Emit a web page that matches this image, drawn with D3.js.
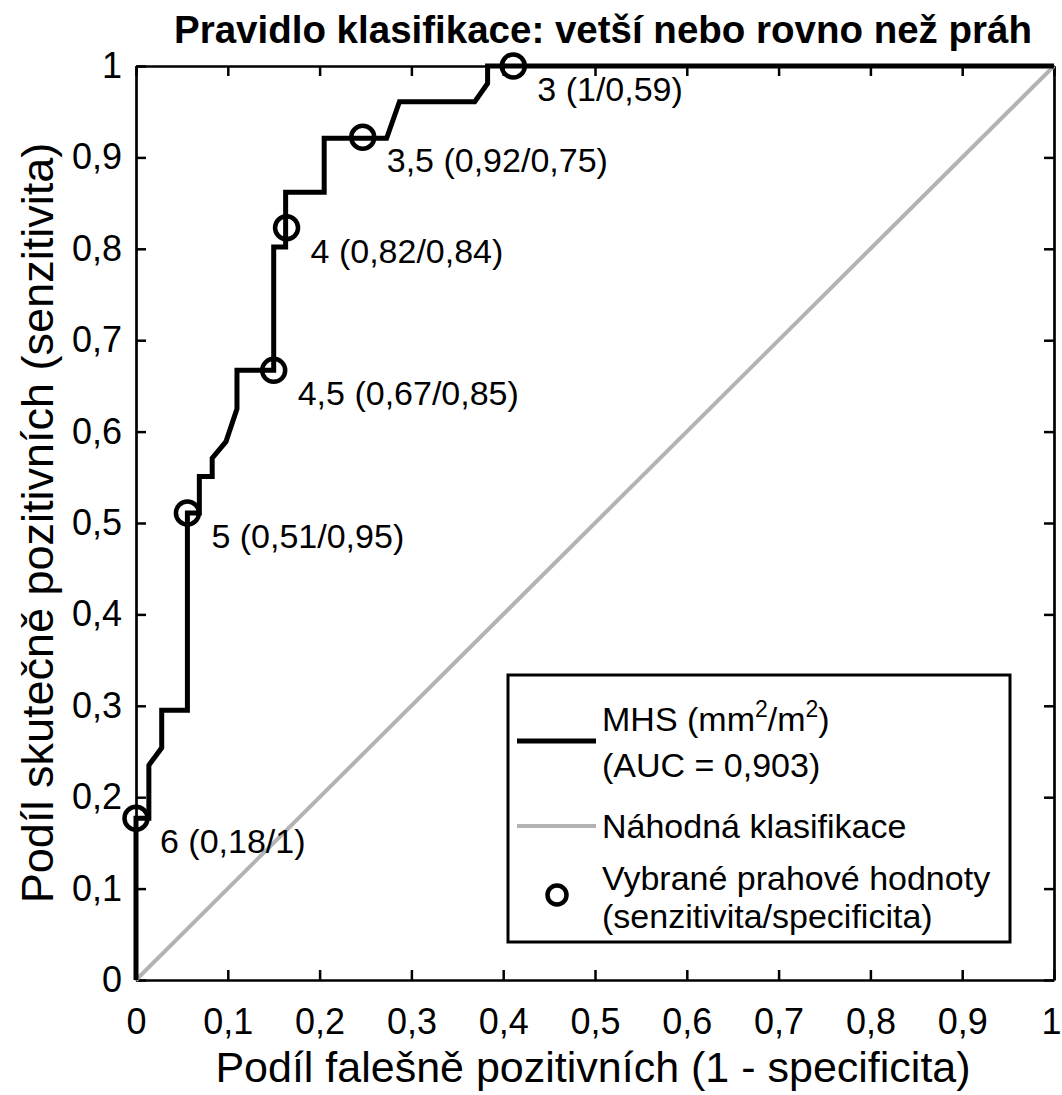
<!DOCTYPE html>
<html>
<head>
<meta charset="utf-8">
<script src="https://cdn.jsdelivr.net/npm/d3@7.9.0/dist/d3.min.js"></script>
<style>
  body { margin: 0; background: #fff; }
  svg { display: block; font-family: "Liberation Sans", Arial, sans-serif; }
</style>
</head>
<body>
<svg id="chart" width="1062" height="1095"></svg>
<script>
// ROC curve (false positive rate / true positive rate)
const rocFpr = [0, 0, 0.014, 0.014, 0.028, 0.028, 0.056, 0.056, 0.069, 0.069, 0.083, 0.083, 0.098, 0.110, 0.110, 0.150, 0.150, 0.163, 0.163, 0.205, 0.205, 0.273, 0.287, 0.369, 0.383, 0.383, 1];
const rocTpr = [0, 0.177, 0.177, 0.235, 0.254, 0.295, 0.295, 0.511, 0.511, 0.551, 0.551, 0.571, 0.589, 0.625, 0.667, 0.667, 0.802, 0.802, 0.862, 0.862, 0.921, 0.921, 0.961, 0.961, 0.981, 1, 1];

// selected thresholds
const cutFpr = [0.411, 0.247, 0.164, 0.150, 0.056, 0];
const cutTpr = [1.0, 0.922, 0.823, 0.667, 0.511, 0.177];
const cutLabels = ["3 (1/0,59)", "3,5 (0,92/0,75)", "4 (0,82/0,84)", "4,5 (0,67/0,85)", "5 (0,51/0,95)", "6 (0,18/1)"];

// random classifier
const diagX = [0, 1];
const diagY = [0, 1];

const tickValues = [0, 0.1, 0.2, 0.3, 0.4, 0.5, 0.6, 0.7, 0.8, 0.9, 1];
const tickLabels = ["0", "0,1", "0,2", "0,3", "0,4", "0,5", "0,6", "0,7", "0,8", "0,9", "1"];

const svg = d3.select("#chart");

const x = d3.scaleLinear().domain([0, 1]).range([136, 1054]);
const y = d3.scaleLinear().domain([0, 1]).range([980, 66]);

const fmt = (d) => tickLabels[tickValues.indexOf(d)];

// axes (box, ticks inward)
function styleAxis(g, showText, size) {
  g.select(".domain").attr("stroke", "#000").attr("stroke-width", 2.7);
  g.selectAll(".tick line").attr("stroke", "#000").attr("stroke-width", 2.5);
  g.selectAll(".tick text")
    .attr("fill", "#000")
    .style("font-size", size + "px")
    .style("font-family", '"Liberation Sans", Arial, sans-serif');
  if (!showText) g.selectAll(".tick text").remove();
}

const xAxisG = svg.append("g")
  .attr("transform", "translate(0,980)")
  .call(d3.axisBottom(x).tickValues(tickValues).tickFormat(fmt).tickSizeInner(-10).tickSizeOuter(0).tickPadding(28))
  .call((g) => styleAxis(g, true, 36));
// keep the last label inside the window
xAxisG.selectAll(".tick text").filter((d) => d === 1).attr("dx", -3);

svg.append("g")
  .attr("transform", "translate(0,66)")
  .call(d3.axisTop(x).tickValues(tickValues).tickSizeInner(-10).tickSizeOuter(0))
  .call((g) => styleAxis(g, false, 36));

svg.append("g")
  .attr("transform", "translate(136,0)")
  .call(d3.axisLeft(y).tickValues(tickValues).tickFormat(fmt).tickSizeInner(-10).tickSizeOuter(0).tickPadding(14))
  .call((g) => styleAxis(g, true, 36));

svg.append("g")
  .attr("transform", "translate(1054,0)")
  .call(d3.axisRight(y).tickValues(tickValues).tickSizeInner(-10).tickSizeOuter(0))
  .call((g) => styleAxis(g, false, 36));

// diagonal
const line = d3.line().x((d) => x(d[0])).y((d) => y(d[1]));
svg.append("path")
  .attr("d", line(diagX.map((v, i) => [v, diagY[i]])))
  .attr("fill", "none")
  .attr("stroke", "#b3b3b3")
  .attr("stroke-width", 4);

// ROC curve
svg.append("path")
  .attr("d", line(rocFpr.map((v, i) => [v, rocTpr[i]])))
  .attr("fill", "none")
  .attr("stroke", "#000")
  .attr("stroke-width", 5)
  .attr("stroke-linejoin", "miter");

// threshold markers + labels
cutFpr.forEach((fx, i) => {
  svg.append("circle")
    .attr("cx", x(fx))
    .attr("cy", y(cutTpr[i]))
    .attr("r", 11.5)
    .attr("fill", "none")
    .attr("stroke", "#000")
    .attr("stroke-width", 4.5);
  svg.append("text")
    .attr("x", x(fx) + 24)
    .attr("y", y(cutTpr[i]) + 23)
    .attr("dy", "0.35em")
    .style("font-size", "34px")
    .text(cutLabels[i]);
});

// title & axis labels
svg.append("text")
  .attr("x", 603)
  .attr("y", 43)
  .attr("text-anchor", "middle")
  .style("font-size", "38.5px")
  .style("font-weight", "bold")
  .text("Pravidlo klasifikace: vetší nebo rovno než práh");

svg.append("text")
  .attr("x", 593)
  .attr("y", 1082)
  .attr("text-anchor", "middle")
  .style("font-size", "43px")
  .text("Podíl falešně pozitivních (1 - specificita)");

svg.append("text")
  .attr("transform", "translate(53,523) rotate(-90)")
  .attr("text-anchor", "middle")
  .style("font-size", "45px")
  .text("Podíl skutečně pozitivních (senzitivita)");

// legend
const lg = svg.append("g");
lg.append("rect")
  .attr("x", 508).attr("y", 675).attr("width", 502).attr("height", 267)
  .attr("fill", "#fff").attr("stroke", "#000").attr("stroke-width", 3);

lg.append("line").attr("x1", 517).attr("x2", 596).attr("y1", 741).attr("y2", 741)
  .attr("stroke", "#000").attr("stroke-width", 5);
const t1 = lg.append("text").attr("x", 602).attr("y", 731).style("font-size", "34px");
t1.append("tspan").text("MHS (mm");
t1.append("tspan").attr("dy", -14).style("font-size", "23px").text("2");
t1.append("tspan").attr("dy", 14).text("/m");
t1.append("tspan").attr("dy", -14).style("font-size", "23px").text("2");
t1.append("tspan").attr("dy", 14).text(")");
lg.append("text").attr("x", 602).attr("y", 777).style("font-size", "34px").text("(AUC = 0,903)");

lg.append("line").attr("x1", 517).attr("x2", 596).attr("y1", 826).attr("y2", 826)
  .attr("stroke", "#b3b3b3").attr("stroke-width", 4);
lg.append("text").attr("x", 602).attr("y", 838).style("font-size", "34px").text("Náhodná klasifikace");

lg.append("circle").attr("cx", 557).attr("cy", 895).attr("r", 9.5)
  .attr("fill", "none").attr("stroke", "#000").attr("stroke-width", 4.5);
lg.append("text").attr("x", 602).attr("y", 890).style("font-size", "34px").text("Vybrané prahové hodnoty");
lg.append("text").attr("x", 602).attr("y", 928).style("font-size", "34px").text("(senzitivita/specificita)");
</script>
</body>
</html>
